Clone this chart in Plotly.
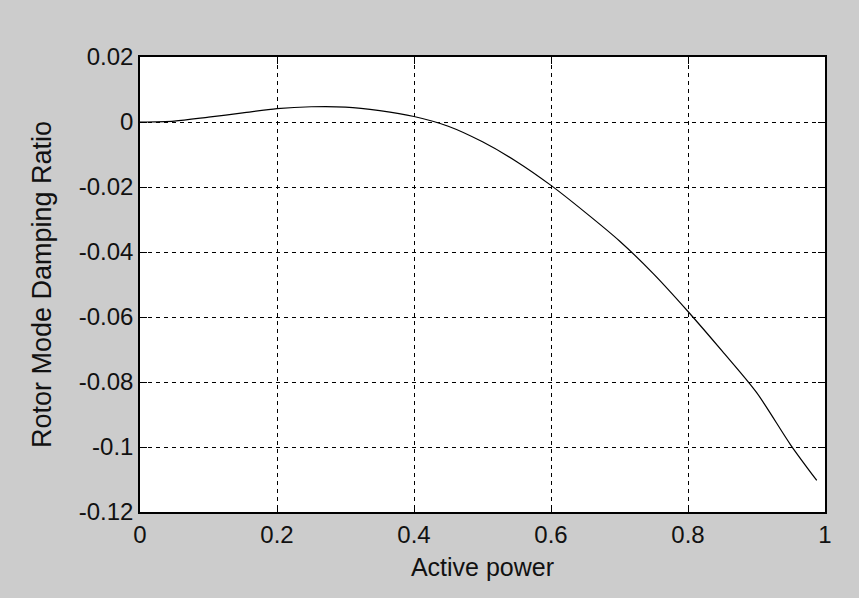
import plotly.graph_objects as go

active_power = [0, 0.05, 0.1, 0.15, 0.2, 0.25, 0.3, 0.35, 0.4, 0.45, 0.5,
                0.55, 0.6, 0.65, 0.7, 0.75, 0.8, 0.85, 0.9, 0.95, 0.988]
damping_ratio = [0, 0.0003, 0.0015, 0.0028, 0.0041, 0.0047, 0.0046, 0.0035,
                 0.0017, -0.0013, -0.0061, -0.0122, -0.0195, -0.0278, -0.0366,
                 -0.0468, -0.0583, -0.0705, -0.0832, -0.0994, -0.1103]

x_ticks = [0, 0.2, 0.4, 0.6, 0.8, 1]
x_ticklabels = ["0", "0.2", "0.4", "0.6", "0.8", "1"]
y_ticks = [0.02, 0, -0.02, -0.04, -0.06, -0.08, -0.1, -0.12]
y_ticklabels = ["0.02", "0", "-0.02", "-0.04", "-0.06", "-0.08", "-0.1", "-0.12"]

FONT = "Liberation Sans, Arial"
TICKFONT = "Liberation Sans Narrow, Liberation Sans, Arial"

fig = go.Figure()
fig.add_trace(go.Scatter(x=active_power, y=damping_ratio, mode="lines",
                         line=dict(color="black", width=1.2, shape="spline", smoothing=0.8),
                         showlegend=False))

axis_common = dict(
    showline=True, linecolor="black", linewidth=1.5, mirror="ticks",
    ticks="inside", ticklen=7, tickcolor="black", tickwidth=1,
    showgrid=True, gridcolor="black", gridwidth=1, griddash="4px,4px",
    zeroline=False,
    tickfont=dict(family=TICKFONT, size=24, color="#111111"),
)

fig.update_xaxes(range=[0, 1], tickvals=x_ticks, ticktext=x_ticklabels,
                 title=dict(text="Active power", standoff=12,
                            font=dict(family=FONT, size=25, color="#111111")),
                 **axis_common)
fig.update_yaxes(range=[-0.12, 0.02], tickvals=y_ticks, ticktext=y_ticklabels,
                 title=dict(text="Rotor Mode Damping Ratio", standoff=19,
                            font=dict(family=FONT, size=27, color="#111111")),
                 **axis_common)

fig.update_layout(
    width=859, height=598,
    margin=dict(l=140, r=34, t=57, b=86),
    paper_bgcolor="#cccccc", plot_bgcolor="white",
)

fig.write_html("out.html", config={"displayModeBar": False},
               post_script="document.body.style.margin='0';document.body.style.background='#cccccc';")
